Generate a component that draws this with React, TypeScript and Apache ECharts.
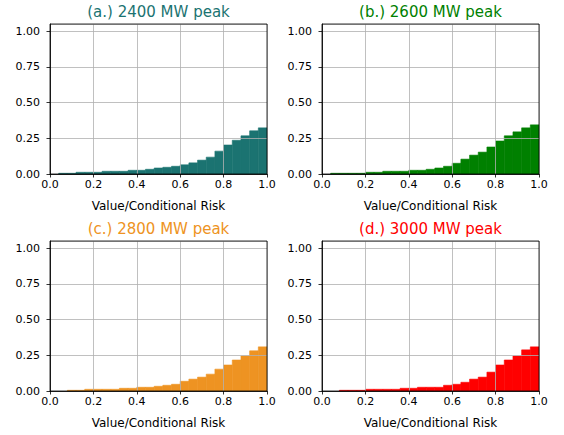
import React, { useEffect, useRef } from "react";
import * as echarts from "echarts";

const binStarts = [0, 0.04, 0.08, 0.12, 0.16, 0.2, 0.24, 0.28, 0.32, 0.36, 0.4, 0.44, 0.48, 0.52, 0.56, 0.6, 0.64, 0.68, 0.72, 0.76, 0.8, 0.84, 0.88, 0.92, 0.96];
const binWidth = 0.04;

const valuesA = [0, 0.005, 0.005, 0.012, 0.012, 0.012, 0.019, 0.019, 0.019, 0.026, 0.026, 0.033, 0.042, 0.047, 0.054, 0.064, 0.078, 0.097, 0.118, 0.160, 0.203, 0.236, 0.267, 0.302, 0.323];
const valuesB = [0, 0.005, 0.005, 0.005, 0.005, 0.012, 0.012, 0.019, 0.019, 0.019, 0.026, 0.026, 0.033, 0.042, 0.054, 0.075, 0.104, 0.132, 0.153, 0.189, 0.231, 0.267, 0.295, 0.323, 0.344];
const valuesC = [0, 0, 0.005, 0.005, 0.012, 0.012, 0.012, 0.012, 0.019, 0.019, 0.026, 0.026, 0.033, 0.040, 0.047, 0.068, 0.083, 0.097, 0.118, 0.153, 0.182, 0.217, 0.245, 0.281, 0.309];
const valuesD = [0, 0, 0.005, 0.005, 0.005, 0.012, 0.012, 0.012, 0.012, 0.019, 0.019, 0.026, 0.026, 0.026, 0.040, 0.047, 0.061, 0.083, 0.097, 0.132, 0.182, 0.217, 0.245, 0.288, 0.309];

const titles = ["(a.) 2400 MW peak", "(b.) 2600 MW peak", "(c.) 2800 MW peak", "(d.) 3000 MW peak"];
const colors = ["#1b7371", "#008000", "#ee9322", "#ff0000"];
const xLabel = "Value/Conditional Risk";

const FONT = "DejaVu Sans";

export default function App() {
  const ref = useRef<HTMLDivElement>(null);
  useEffect(() => {
    document.body.style.margin = "0";
    if (!ref.current) return;
    const chart = echarts.init(ref.current, undefined, { renderer: "svg" });
    const allValues = [valuesA, valuesB, valuesC, valuesD];
    const grids = [
      { left: 50, top: 24, width: 217, height: 150 },
      { left: 322, top: 24, width: 217, height: 150 },
      { left: 50, top: 241, width: 217, height: 150 },
      { left: 322, top: 241, width: 217, height: 150 },
    ];
    const option: any = {
      animation: false,
      grid: grids.map((g) => ({
        ...g,
        show: true,
        borderColor: "#000",
        borderWidth: 0.8,
        backgroundColor: "transparent",
        z: 6,
      })),
      xAxis: grids.map((_, i) => ({
        type: "value",
        gridIndex: i,
        min: 0,
        max: 1,
        interval: 0.2,
        z: 5,
        name: xLabel,
        nameLocation: "middle",
        nameGap: 26,
        nameTextStyle: { color: "#000", fontFamily: FONT, fontSize: 12 },
        axisLine: { show: true, lineStyle: { color: "#000", width: 0.8 } },
        axisTick: { show: true, inside: false, length: 3.5, lineStyle: { color: "#000", width: 0.8 } },
        axisLabel: {
          color: "#000",
          fontFamily: FONT,
          fontSize: 11,
          margin: 5,
          formatter: (v: number) => v.toFixed(1),
        },
        splitLine: { show: true, lineStyle: { color: "#b0b0b0", width: 0.8 } },
      })),
      yAxis: grids.map((_, i) => ({
        type: "value",
        gridIndex: i,
        min: 0,
        max: 1.05,
        interval: 0.25,
        z: 5,
        axisLine: { show: true, lineStyle: { color: "#000", width: 0.8 } },
        axisTick: { show: true, inside: false, length: 3.5, lineStyle: { color: "#000", width: 0.8 } },
        axisLabel: {
          color: "#000",
          fontFamily: FONT,
          fontSize: 11,
          margin: 10,
          showMaxLabel: false,
          formatter: (v: number) => (v > 1.001 ? "" : v.toFixed(2)),
        },
        splitLine: { show: true, lineStyle: { color: "#b0b0b0", width: 0.8 } },
      })),
      series: allValues.map((vals, i) => ({
        type: "custom",
        xAxisIndex: i,
        yAxisIndex: i,
        z: 2,
        encode: { x: [0, 1], y: 2 },
        data: binStarts.map((s, k) => [s, s + binWidth, vals[k]]),
        renderItem: (params: any, api: any) => {
          const x0 = api.value(0);
          const x1 = api.value(1);
          const v = api.value(2);
          if (!v) return null;
          const p0 = api.coord([x0, v]);
          const p1 = api.coord([x1, 0]);
          return {
            type: "rect",
            shape: { x: p0[0], y: p0[1], width: p1[0] - p0[0], height: p1[1] - p0[1] },
            style: { fill: colors[i], stroke: colors[i], lineWidth: 0.6 },
          };
        },
      })),
      graphic: grids.map((g, i) => ({
        type: "text",
        x: g.left + g.width / 2,
        y: g.top - 12,
        style: {
          text: titles[i],
          fill: colors[i],
          font: `15px "${FONT}"`,
          textAlign: "center",
          textVerticalAlign: "middle",
        },
      })),
    };
    chart.setOption(option);
    return () => chart.dispose();
  }, []);
  return <div ref={ref} style={{ width: 564, height: 435 }} />;
}
